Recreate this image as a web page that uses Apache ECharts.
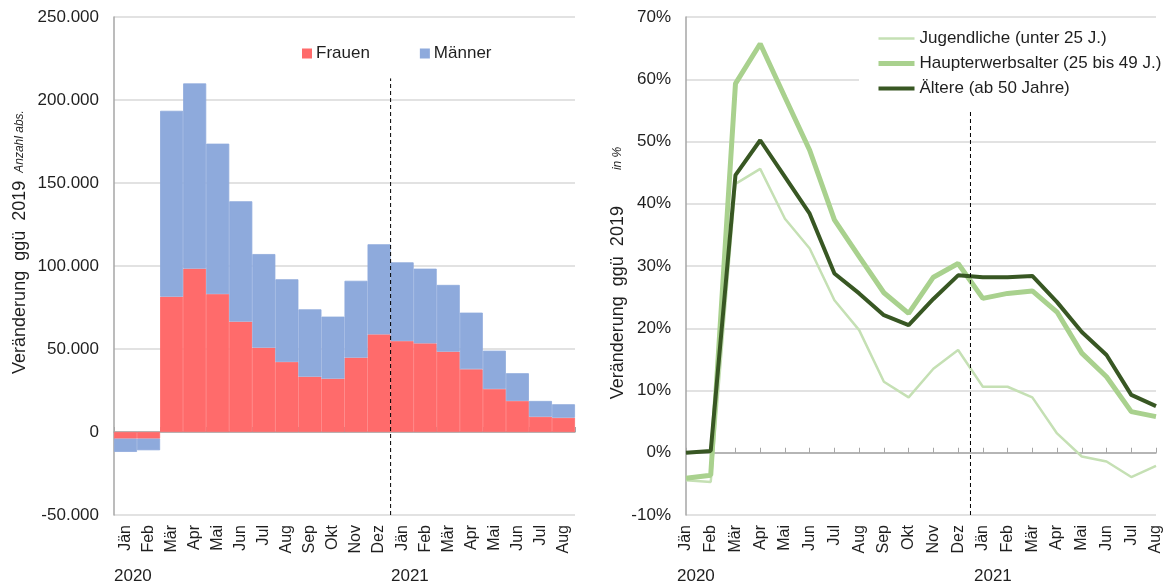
<!DOCTYPE html>
<html>
<head>
<meta charset="utf-8">
<script src="https://cdn.jsdelivr.net/npm/echarts@6/dist/echarts.min.js"></script>
<style>
html, body { margin: 0; padding: 0; background: #fff; }
#chart { width: 1169px; height: 586px; }
</style>
</head>
<body>
<div id="chart"></div>
<script>
// Monate Jän 2020 bis Aug 2021
const months = ['Jän','Feb','Mär','Apr','Mai','Jun','Jul','Aug','Sep','Okt','Nov','Dez',
                'Jän','Feb','Mär','Apr','Mai','Jun','Jul','Aug'];

// linke Grafik: Veränderung ggü 2019, Anzahl abs.
const frauen = [-4000,-4000,81500,98400,83100,66500,50800,42200,33300,32100,44800,58800,
                54800,53400,48400,37800,25900,18700,9200,8600];
const maenner = [-8000,-7000,112000,111600,90600,72500,56400,49800,40600,37400,46300,54300,
                 47400,45000,40200,34100,23100,16700,9500,8100];

// rechte Grafik: Veränderung ggü 2019 in %
const jugendliche = [-4.4,-4.7,43.2,45.6,37.6,32.8,24.5,19.7,11.4,8.9,13.5,16.5,
                     10.6,10.6,8.9,3.1,-0.6,-1.4,-3.9,-2.1];
const haupterwerb = [-4.1,-3.6,59.3,65.7,57.1,48.6,37.4,31.5,25.7,22.4,28.2,30.4,
                     24.8,25.6,26.0,22.6,16.0,12.2,6.6,5.8];
const aeltere = [0,0.3,44.6,50.2,44.3,38.4,28.8,25.6,22.1,20.5,24.7,28.5,
                 28.2,28.2,28.4,24.2,19.4,15.7,9.3,7.5];

// Jahreswechsel-Linie (Position auf Hilfsachse) und Höhe
const breakLeft = [[12, -50000], [12, 213000]];
const breakRight = [[11.5, -10], [11.5, 55]];

const font = 'Liberation Sans, Arial, sans-serif';
const txt = '#1f1f1f';
const gridCol = '#d9d9d9';
const axisCol = '#a6a6a6';

function fmtThousand(v) {
    return String(v).replace(/\B(?=(\d{3})+(?!\d))/g, '.');
}

let myChart = echarts.init(document.getElementById('chart'));

let option = {
    animation: false,
    textStyle: { fontFamily: font, color: txt },
    grid: [
        { left: 114, top: 17, width: 461, height: 498 },
        { left: 686, top: 17, width: 470, height: 498 }
    ],
    legend: [
        {
            data: ['Frauen', 'Männer'],
            left: 297, top: 40,
            icon: 'rect', itemWidth: 8, itemHeight: 8, itemGap: 50,
            textStyle: { fontFamily: font, fontSize: 17, color: txt }
        },
        {
            data: ['Jugendliche (unter 25 J.)', 'Haupterwerbsalter (25 bis 49 J.)', 'Ältere (ab 50 Jahre)'],
            orient: 'vertical',
            left: 859, top: 25,
            padding: [5, 30, 5, 17],
            backgroundColor: '#fff',
            itemWidth: 36, itemHeight: 14, itemGap: 8,
            itemStyle: { opacity: 0 },
            lineStyle: { width: 'inherit' },
            textStyle: { fontFamily: font, fontSize: 17, color: txt }
        }
    ],
    xAxis: [
        {   // linke Beschriftung unten
            type: 'category', gridIndex: 0, data: months, position: 'bottom',
            axisLine: { show: false, onZero: false }, axisTick: { show: false },
            axisLabel: { interval: 0, rotate: 90, fontSize: 16, color: txt, fontFamily: font, margin: 10 }
        },
        {   // linke Nulllinie
            type: 'category', gridIndex: 0, data: months, position: 'bottom',
            axisLine: { show: true, onZero: true, lineStyle: { color: axisCol, width: 1.5 } },
            axisTick: { show: true, inside: true, length: 5, lineStyle: { color: axisCol } },
            axisLabel: { show: false }
        },
        {   // Hilfsachse für Trennlinie
            type: 'value', gridIndex: 0, min: 0, max: 20, show: false, position: 'top'
        },
        {
            type: 'category', gridIndex: 1, data: months, boundaryGap: false, position: 'bottom',
            axisLine: { show: false, onZero: false }, axisTick: { show: false },
            axisLabel: { interval: 0, rotate: 90, fontSize: 16, color: txt, fontFamily: font, margin: 10 }
        },
        {
            type: 'category', gridIndex: 1, data: months, boundaryGap: false, position: 'bottom',
            axisLine: { show: true, onZero: true, lineStyle: { color: axisCol, width: 1.5 } },
            axisTick: { show: true, inside: true, length: 5, interval: 0, lineStyle: { color: axisCol } },
            axisLabel: { show: false }
        },
        {
            type: 'value', gridIndex: 1, min: 0, max: 19, show: false, position: 'top'
        }
    ],
    yAxis: [
        {
            type: 'value', gridIndex: 0, min: -50000, max: 250000, interval: 50000,
            axisLine: { show: true, onZero: false, lineStyle: { color: axisCol, width: 1.5 } },
            axisTick: { show: false },
            splitLine: { lineStyle: { color: gridCol, width: 1.5 } },
            axisLabel: { formatter: fmtThousand, fontSize: 17, color: txt, fontFamily: font, margin: 15 },
            name: '{a|Veränderung  ggü  2019}{b|Anzahl abs.}',
            nameLocation: 'middle', nameGap: 85,
            nameTextStyle: {
                rich: {
                    a: { fontSize: 18, color: txt, fontFamily: font, padding: [0, 0, 0, 48] },
                    b: { fontSize: 12, fontStyle: 'italic', color: txt, fontFamily: font, padding: [0, 0, 0, 8] }
                }
            }
        },
        {
            type: 'value', gridIndex: 1, min: -10, max: 70, interval: 10,
            axisLine: { show: true, onZero: false, lineStyle: { color: axisCol, width: 1.5 } },
            axisTick: { show: false },
            splitLine: { lineStyle: { color: gridCol, width: 1.5 } },
            axisLabel: { formatter: '{value}%', fontSize: 17, color: txt, fontFamily: font, margin: 15 },
            name: '{a|Veränderung  ggü  2019}{b|in %}',
            nameLocation: 'middle', nameGap: 59,
            nameTextStyle: {
                rich: {
                    a: { fontSize: 18, color: txt, fontFamily: font },
                    b: { fontSize: 12, fontStyle: 'italic', color: txt, fontFamily: font, padding: [0, 14, 0, 36] }
                }
            }
        }
    ],
    series: [
        {
            name: 'Frauen', type: 'bar', stack: 'abs', xAxisIndex: 0, yAxisIndex: 0,
            barCategoryGap: '0%', data: frauen,
            itemStyle: { color: '#ff6b6b', borderColor: '#ff6b6b', borderWidth: 0.8 }
        },
        {
            name: 'Männer', type: 'bar', stack: 'abs', xAxisIndex: 0, yAxisIndex: 0,
            barCategoryGap: '0%', data: maenner,
            itemStyle: { color: '#8eaadc', borderColor: '#8eaadc', borderWidth: 0.8 }
        },
        {
            type: 'line', xAxisIndex: 2, yAxisIndex: 0, data: breakLeft,
            symbol: 'none', silent: true, z: 5,
            lineStyle: { color: '#000', width: 1, type: [4, 3] }
        },
        {
            name: 'Jugendliche (unter 25 J.)', type: 'line', xAxisIndex: 3, yAxisIndex: 1,
            data: jugendliche, symbol: 'none',
            lineStyle: { color: '#c5e0b4', width: 2.5 }, itemStyle: { color: '#c5e0b4' }
        },
        {
            name: 'Haupterwerbsalter (25 bis 49 J.)', type: 'line', xAxisIndex: 3, yAxisIndex: 1,
            data: haupterwerb, symbol: 'none',
            lineStyle: { color: '#a9d18e', width: 5 }, itemStyle: { color: '#a9d18e' }
        },
        {
            name: 'Ältere (ab 50 Jahre)', type: 'line', xAxisIndex: 3, yAxisIndex: 1,
            data: aeltere, symbol: 'none',
            lineStyle: { color: '#385723', width: 4 }, itemStyle: { color: '#385723' }
        },
        {
            type: 'line', xAxisIndex: 5, yAxisIndex: 1, data: breakRight,
            symbol: 'none', silent: true, z: 5,
            lineStyle: { color: '#000', width: 1, type: [4, 3] }
        }
    ],
    graphic: [
        { type: 'text', left: 114, top: 568, style: { text: '2020', font: '17px ' + font, fill: txt } },
        { type: 'text', left: 391, top: 568, style: { text: '2021', font: '17px ' + font, fill: txt } },
        { type: 'text', left: 677, top: 568, style: { text: '2020', font: '17px ' + font, fill: txt } },
        { type: 'text', left: 974, top: 568, style: { text: '2021', font: '17px ' + font, fill: txt } }
    ]
};

myChart.setOption(option);
</script>
</body>
</html>
